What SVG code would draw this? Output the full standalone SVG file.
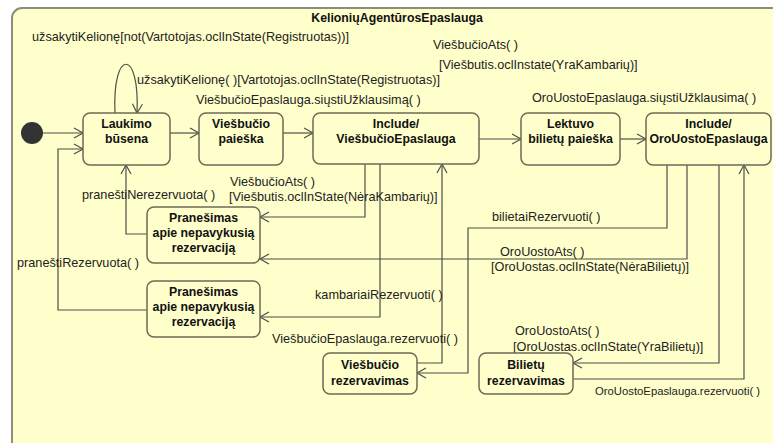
<svg xmlns="http://www.w3.org/2000/svg" width="773" height="443" viewBox="0 0 773 443">
  <style>
    .lbl { font-family: "Liberation Sans", Arial, sans-serif; font-size: 12.7px; fill: #222; }
    .nm { font-family: "Liberation Sans", Arial, sans-serif; font-size: 12.3px; font-weight: bold; fill: #111; text-anchor: middle; }
    .state { fill: #ffffcc; stroke: #6f6a55; stroke-width: 1.5; }
    .edge { fill: none; stroke: #4f4f48; stroke-width: 1.2; }
  </style>
  <defs>
    <marker id="arrow" viewBox="-11 -7 13 14" refX="0" refY="0" markerWidth="13" markerHeight="14" markerUnits="userSpaceOnUse" orient="auto">
      <path d="M-9,-5 L0,0 L-9,5" fill="none" stroke="#4f4f48" stroke-width="1.2"/>
    </marker>
  </defs>

  <rect width="773" height="443" fill="#ffffff"/>

  <!-- enclosing state machine frame -->
  <g id="frame">
    <rect x="12" y="8" width="820" height="480" rx="10" fill="#ffffcc" stroke="#8f8c7c" stroke-width="2"/>
    <text class="nm" x="397" y="22">KelioniųAgentūrosEpaslauga</text>
  </g>

  <!-- transitions -->
  <g id="connectors">
    <path class="edge" d="M43,133 H83" marker-end="url(#arrow)"/>
    <path class="edge" d="M170,133 H199" marker-end="url(#arrow)"/>
    <path class="edge" d="M283,133 H313" marker-end="url(#arrow)"/>
    <path class="edge" d="M479,139 H521" marker-end="url(#arrow)"/>
    <path class="edge" d="M620,139 H646" marker-end="url(#arrow)"/>
    <path class="edge" d="M115,113 C112,48 140,48 137,113" marker-end="url(#arrow)"/>
    <path class="edge" d="M147,234 H126 V165" marker-end="url(#arrow)"/>
    <path class="edge" d="M147,310 H58 V149 H83" marker-end="url(#arrow)"/>
    <path class="edge" d="M365,164 V217 H260" marker-end="url(#arrow)"/>
    <path class="edge" d="M380,164 V317 H260" marker-end="url(#arrow)"/>
    <path class="edge" d="M417,363 H442 V164" marker-end="url(#arrow)"/>
    <path class="edge" d="M667,165 V228 H468 V373 H417" marker-end="url(#arrow)"/>
    <path class="edge" d="M687,165 V259 H260" marker-end="url(#arrow)"/>
    <path class="edge" d="M719,165 V363 H573" marker-end="url(#arrow)"/>
    <path class="edge" d="M573,379 H744 V165" marker-end="url(#arrow)"/>

    <text class="lbl" x="32" y="41">užsakytiKelionę[not(Vartotojas.oclInState(Registruotas))]</text>
    <text class="lbl" x="137" y="84">užsakytiKelionę( )[Vartotojas.oclInState(Registruotas)]</text>
    <text class="lbl" x="433" y="49">ViešbučioAts( )</text>
    <text class="lbl" x="439" y="69">[Viešbutis.oclInstate(YraKambarių)]</text>
    <text class="lbl" x="196" y="104">ViešbučioEpaslauga.siųstiUžklausimą( )</text>
    <text class="lbl" x="532" y="102">OroUostoEpaslauga.siųstiUžklausima( )</text>
    <text class="lbl" x="82" y="199">praneštiNerezervuota( )</text>
    <text class="lbl" x="230" y="186">ViešbučioAts( )</text>
    <text class="lbl" x="229" y="201">[Viešbutis.oclInState(NėraKambarių)]</text>
    <text class="lbl" x="492" y="221">bilietaiRezervuoti( )</text>
    <text class="lbl" x="500" y="256">OroUostoAts( )</text>
    <text class="lbl" x="491" y="271">[OroUostas.oclInState(NėraBilietų)]</text>
    <text class="lbl" x="17" y="267">praneštiRezervuota( )</text>
    <text class="lbl" x="315" y="299">kambariaiRezervuoti( )</text>
    <text class="lbl" x="272" y="343">ViešbučioEpaslauga.rezervuoti( )</text>
    <text class="lbl" x="515" y="335">OroUostoAts( )</text>
    <text class="lbl" x="513" y="351">[OroUostas.oclInState(YraBilietų)]</text>
    <text class="lbl" x="595" y="395" style="font-size:11.3px">OroUostoEpaslauga.rezervuoti( )</text>
  </g>

  <g id="initial">
    <circle cx="32" cy="133" r="11" fill="#333333"/>
  </g>

  <g id="laukimo">
    <rect class="state" x="83" y="113" width="87" height="52" rx="7"/>
    <text class="nm" x="126.5" y="128">Laukimo</text>
    <text class="nm" x="126.5" y="143">būsena</text>
  </g>

  <g id="viesbucio-paieska">
    <rect class="state" x="199" y="113" width="84" height="52" rx="7"/>
    <text class="nm" x="241" y="128">Viešbučio</text>
    <text class="nm" x="241" y="143">paieška</text>
  </g>

  <g id="include-viesbucio">
    <rect class="state" x="313" y="113" width="166" height="51" rx="7"/>
    <text class="nm" x="396" y="128">Include/</text>
    <text class="nm" x="396" y="143">ViešbučioEpaslauga</text>
  </g>

  <g id="lektuvo-paieska">
    <rect class="state" x="521" y="113" width="99" height="52" rx="7"/>
    <text class="nm" x="570.5" y="128">Lektuvo</text>
    <text class="nm" x="570.5" y="143">bilietų paieška</text>
  </g>

  <g id="include-orouosto">
    <rect class="state" x="646" y="113" width="125" height="52" rx="7"/>
    <text class="nm" x="708.5" y="128">Include/</text>
    <text class="nm" x="708.5" y="143">OroUostoEpaslauga</text>
  </g>

  <g id="pranesimas-1">
    <rect class="state" x="147" y="207" width="113" height="56" rx="7"/>
    <text class="nm" x="203.5" y="222">Pranešimas</text>
    <text class="nm" x="203.5" y="237">apie nepavykusią</text>
    <text class="nm" x="203.5" y="252">rezervaciją</text>
  </g>

  <g id="pranesimas-2">
    <rect class="state" x="147" y="281" width="113" height="56" rx="7"/>
    <text class="nm" x="203.5" y="296">Pranešimas</text>
    <text class="nm" x="203.5" y="311">apie nepavykusią</text>
    <text class="nm" x="203.5" y="326">rezervaciją</text>
  </g>

  <g id="viesbucio-rezervavimas">
    <rect class="state" x="323" y="353" width="94" height="41" rx="7"/>
    <text class="nm" x="370" y="369">Viešbučio</text>
    <text class="nm" x="370" y="385">rezervavimas</text>
  </g>

  <g id="bilietu-rezervavimas">
    <rect class="state" x="479" y="353" width="94" height="41" rx="7"/>
    <text class="nm" x="526" y="369">Bilietų</text>
    <text class="nm" x="526" y="385">rezervavimas</text>
  </g>
</svg>
